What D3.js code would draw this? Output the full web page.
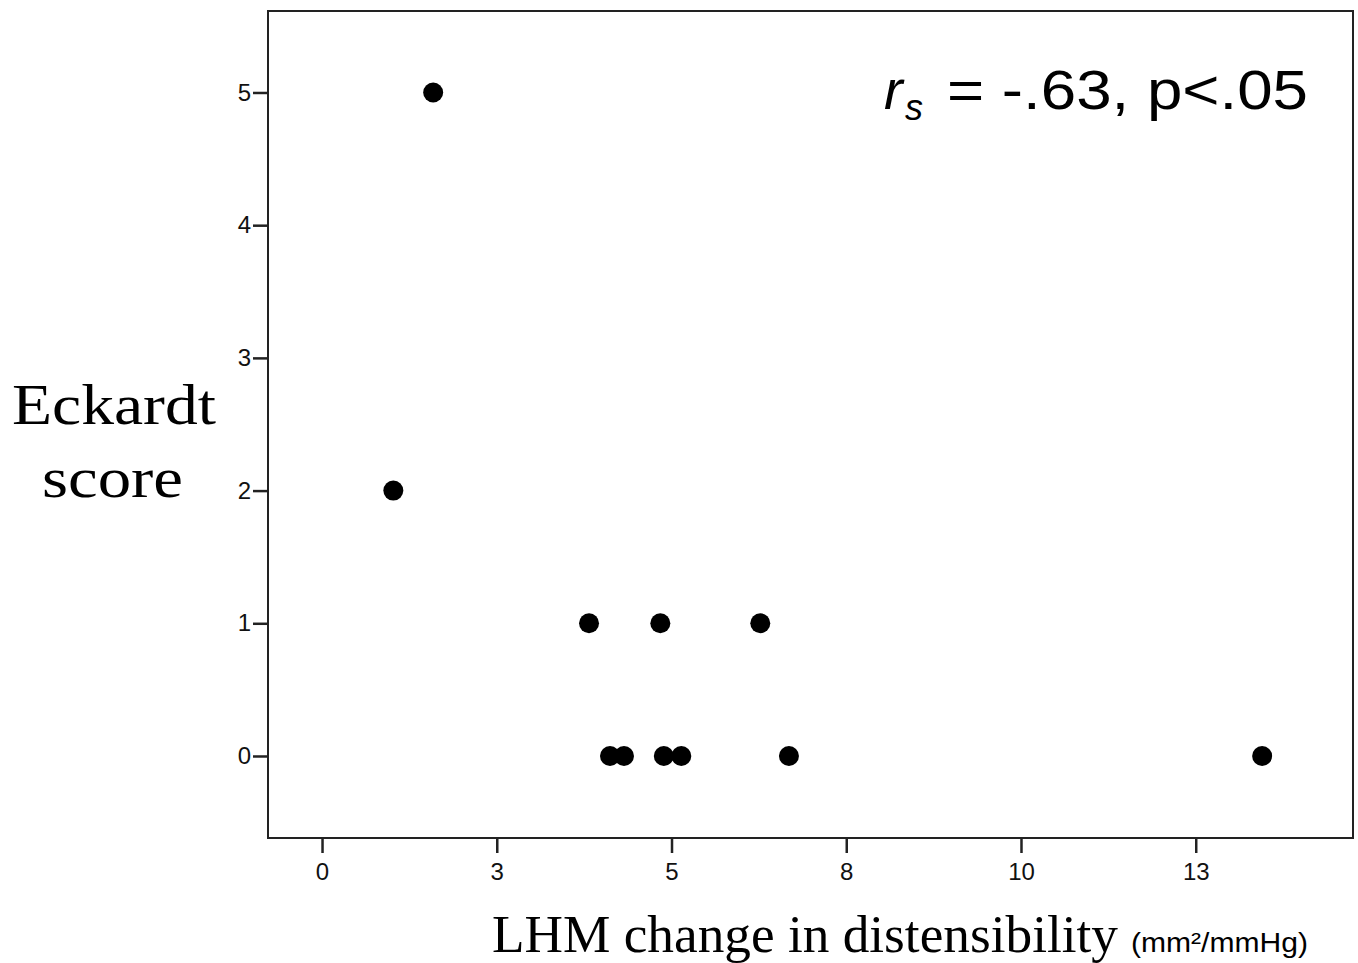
<!DOCTYPE html>
<html>
<head>
<meta charset="utf-8">
<script src="https://cdn.jsdelivr.net/npm/d3@7"></script>
<style>
  body { margin: 0; background: #fff; }
  svg { display: block; }
</style>
</head>
<body>
<svg id="chart" width="1358" height="963"></svg>
<script>
// scatter values
var lhmChange = [1.59, 1.02, 3.82, 4.84, 6.27, 4.12, 4.32, 4.89, 5.14, 6.68, 13.45];
var eckardt   = [5,    2,    1,    1,    1,    0,    0,    0,    0,    0,    0];

var xTickValues = [0, 2.5, 5, 7.5, 10, 12.5];
var xTickLabels = ["0", "3", "5", "8", "10", "13"];
var yTickValues = [0, 1, 2, 3, 4, 5];

var box = { left: 268, top: 11, right: 1353, bottom: 838 };

var svg = d3.select("#chart");

var x = d3.scaleLinear().domain([-0.773, 14.75]).range([box.left, box.right]);
var y = d3.scaleLinear().domain([-0.618, 5.614]).range([box.bottom, box.top]);

// frame
svg.append("rect")
    .attr("x", box.left).attr("y", box.top)
    .attr("width", box.right - box.left).attr("height", box.bottom - box.top)
    .attr("fill", "none").attr("stroke", "#222").attr("stroke-width", 2);

var xAxis = d3.axisBottom(x)
    .tickValues(xTickValues)
    .tickSize(15).tickPadding(10)
    .tickFormat(function(d, i) { return xTickLabels[i]; });

var yAxis = d3.axisLeft(y)
    .tickValues(yTickValues)
    .tickSize(15).tickPadding(2)
    .tickFormat(d3.format("d"));

function styleAxis(g) {
    g.select(".domain").remove();
    g.selectAll(".tick line").attr("stroke", "#222").attr("stroke-width", 2.5);
    g.selectAll(".tick text")
        .attr("fill", "#111")
        .style("font-family", "'Liberation Sans', Arial, sans-serif")
        .style("font-size", "24px");
}

svg.append("g")
    .attr("transform", "translate(0," + box.bottom + ")")
    .call(xAxis).call(styleAxis);

svg.append("g")
    .attr("transform", "translate(" + box.left + ",0)")
    .call(yAxis).call(styleAxis);

// points
svg.append("g").selectAll("circle")
    .data(lhmChange.map(function(v, i) { return { x: v, y: eckardt[i] }; }))
    .enter().append("circle")
    .attr("cx", function(d) { return x(d.x); })
    .attr("cy", function(d) { return y(d.y); })
    .attr("r", 10)
    .attr("fill", "#000");

// axis titles
var serif = "'Liberation Serif', 'DejaVu Serif', serif";

svg.append("text")
    .attr("x", 12).attr("y", 424)
    .attr("textLength", 204).attr("lengthAdjust", "spacingAndGlyphs")
    .style("font-family", serif).style("font-size", "58px")
    .text("Eckardt");

svg.append("text")
    .attr("x", 42).attr("y", 497)
    .attr("textLength", 141).attr("lengthAdjust", "spacingAndGlyphs")
    .style("font-family", serif).style("font-size", "58px")
    .text("score");

svg.append("text")
    .attr("x", 492).attr("y", 952)
    .attr("textLength", 626).attr("lengthAdjust", "spacingAndGlyphs")
    .style("font-family", serif).style("font-size", "52px")
    .text("LHM change in distensibility");

svg.append("text")
    .attr("x", 1131).attr("y", 952)
    .attr("textLength", 177).attr("lengthAdjust", "spacingAndGlyphs")
    .style("font-family", "'Liberation Sans', Arial, sans-serif").style("font-size", "27px")
    .text("(mm\u00B2/mmHg)");

// correlation annotation
var sans = "'Liberation Sans', Arial, sans-serif";
svg.append("text")
    .attr("x", 884).attr("y", 109)
    .style("font-family", sans).style("font-size", "56px").style("font-style", "italic")
    .text("r");
svg.append("text")
    .attr("x", 905).attr("y", 120)
    .style("font-family", sans).style("font-size", "36px").style("font-style", "italic")
    .text("s");
svg.append("text")
    .attr("x", 947).attr("y", 109)
    .attr("textLength", 361).attr("lengthAdjust", "spacingAndGlyphs")
    .style("font-family", sans).style("font-size", "56px")
    .text("= -.63, p<.05");
</script>
</body>
</html>
